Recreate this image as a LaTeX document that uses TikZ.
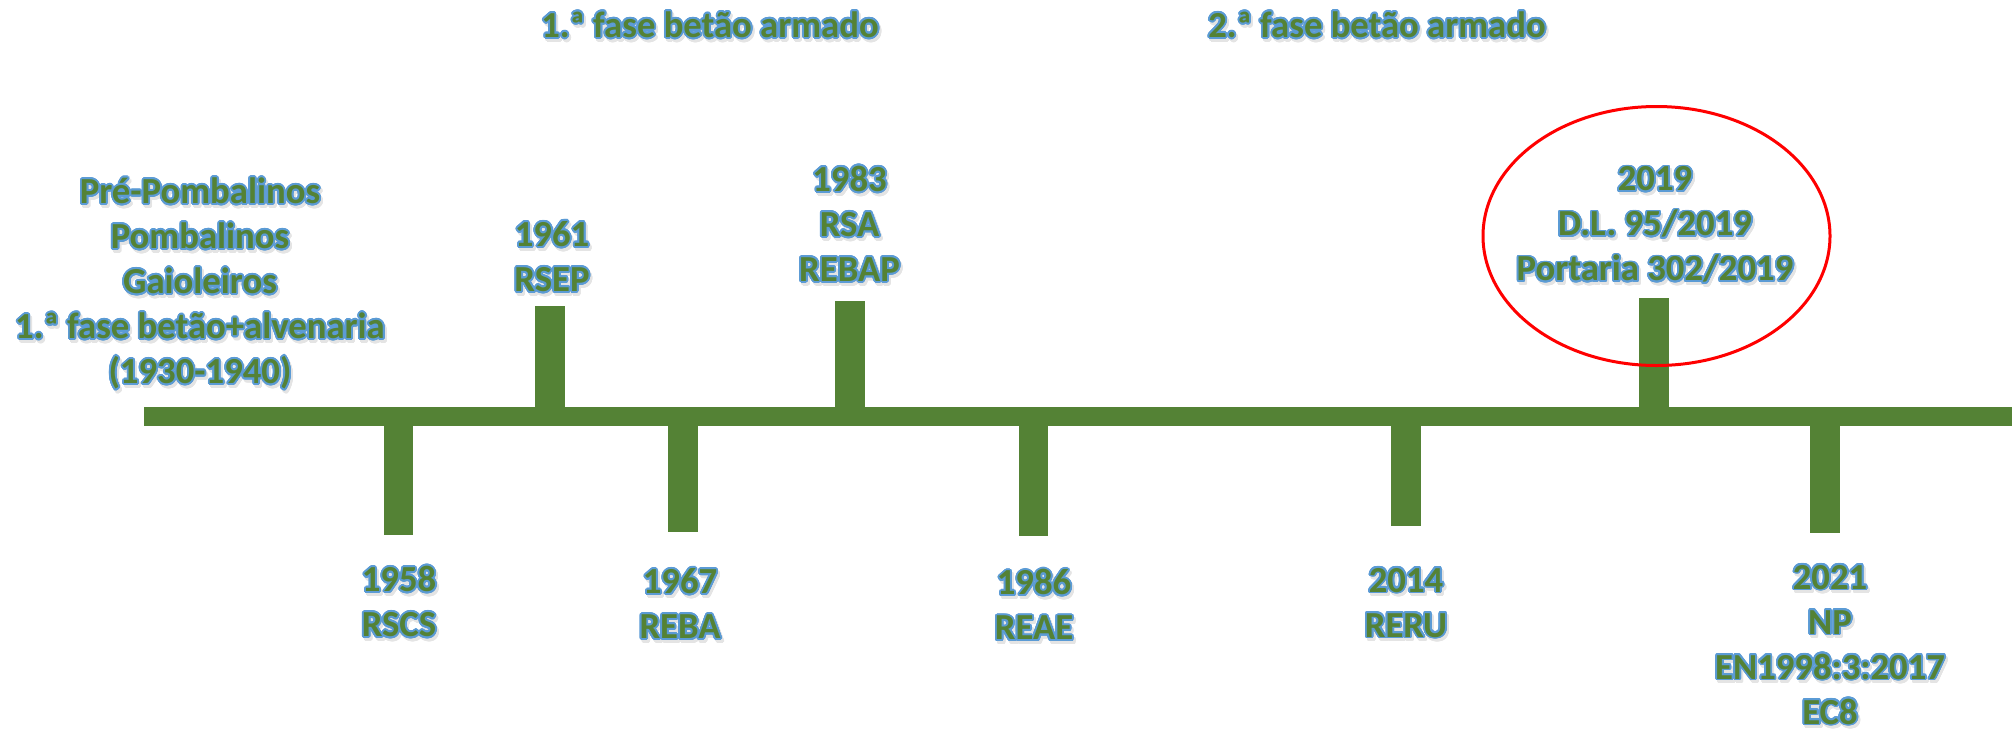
\documentclass[tikz,border=0pt]{standalone}
\usepackage{fontspec}
\setmainfont{Carlito}
\usepackage[copies]{contour}
\contourlength{1.8pt}
\contournumber{24}
\usetikzlibrary{shapes.geometric}
\definecolor{barg}{HTML}{548235}
\definecolor{olb}{HTML}{5B9BD5}
\definecolor{shd}{HTML}{E4E4E4}
\newcommand\ol[1]{\leavevmode\rlap{\raisebox{-3pt}{\hspace{2pt}\textcolor{shd}{\contour{shd}{#1}}}}\contour{olb}{#1}}
\tikzset{
  lbl/.style={font=\bfseries\fontsize{36.7}{45}\selectfont, text=barg, align=center, inner sep=0pt},
  tickbox/.style={fill=barg, draw=none, inner sep=0pt, minimum width=29.5pt},
  uptick/.style={tickbox, anchor=south},
  dntick/.style={tickbox, anchor=north},
}
\begin{document}
\begin{tikzpicture}[x=1pt,y=-1pt]
\useasboundingbox (0,0) rectangle (2012,732);
% axis
\node[fill=barg, inner sep=0pt, minimum width=1868.3pt, minimum height=19pt, anchor=north west] (axis) at (143.7,407) {};
% ticks above
\node[uptick, minimum height=101.5pt] (t1961) at (550,407.5) {};
\node[uptick, minimum height=106.5pt] (t1983) at (850,407.5) {};
\node[uptick, minimum height=109.5pt] (t2019) at (1654,407.5) {};
% ticks below
\node[dntick, minimum height=108.8pt] (t1958) at (398.5,425.7) {};
\node[dntick, minimum height=106pt] (t1967) at (683,425.7) {};
\node[dntick, minimum height=109.8pt] (t1986) at (1033.5,425.7) {};
\node[dntick, minimum height=100.3pt] (t2014) at (1406,425.7) {};
\node[dntick, minimum height=107pt] (t2021) at (1825,425.7) {};
% phase titles
\node[lbl] (f1) at (710,27) {\ol{1.ª fase betão armado}};
\node[lbl] (f2) at (1377,27) {\ol{2.ª fase betão armado}};
% left block
\node[lbl] (old) at (200,286) {\ol{Pré-Pombalinos}\\\ol{Pombalinos}\\\ol{Gaioleiros}\\\ol{1.ª fase betão+alvenaria}\\\ol{(1930-1940)}};
% labels above
\node[lbl] (l1961) at (552,259) {\ol{1961}\\\ol{RSEP}};
\node[lbl] (l1983) at (849.5,226) {\ol{1983}\\\ol{RSA}\\\ol{REBAP}};
\node[lbl] (l2019) at (1655,227) {\ol{2019}\\\ol{D.L. 95/2019}\\\ol{Portaria 302/2019}};
% labels below
\node[lbl] (l1958) at (399,604) {\ol{1958}\\\ol{RSCS}};
\node[lbl] (l1967) at (680,606) {\ol{1967}\\\ol{REBA}};
\node[lbl] (l1986) at (1034,607) {\ol{1986}\\\ol{REAE}};
\node[lbl] (l2014) at (1406,605) {\ol{2014}\\\ol{RERU}};
\node[lbl] (l2021) at (1830,647) {\ol{2021}\\\ol{NP}\\\ol{EN1998:3:2017}\\\ol{EC8}};
% highlight ellipse
\node[ellipse, draw=red, line width=3pt, minimum width=347pt, minimum height=259pt, inner sep=0pt] (hl) at (1656.5,236) {};
\end{tikzpicture}
\end{document}
